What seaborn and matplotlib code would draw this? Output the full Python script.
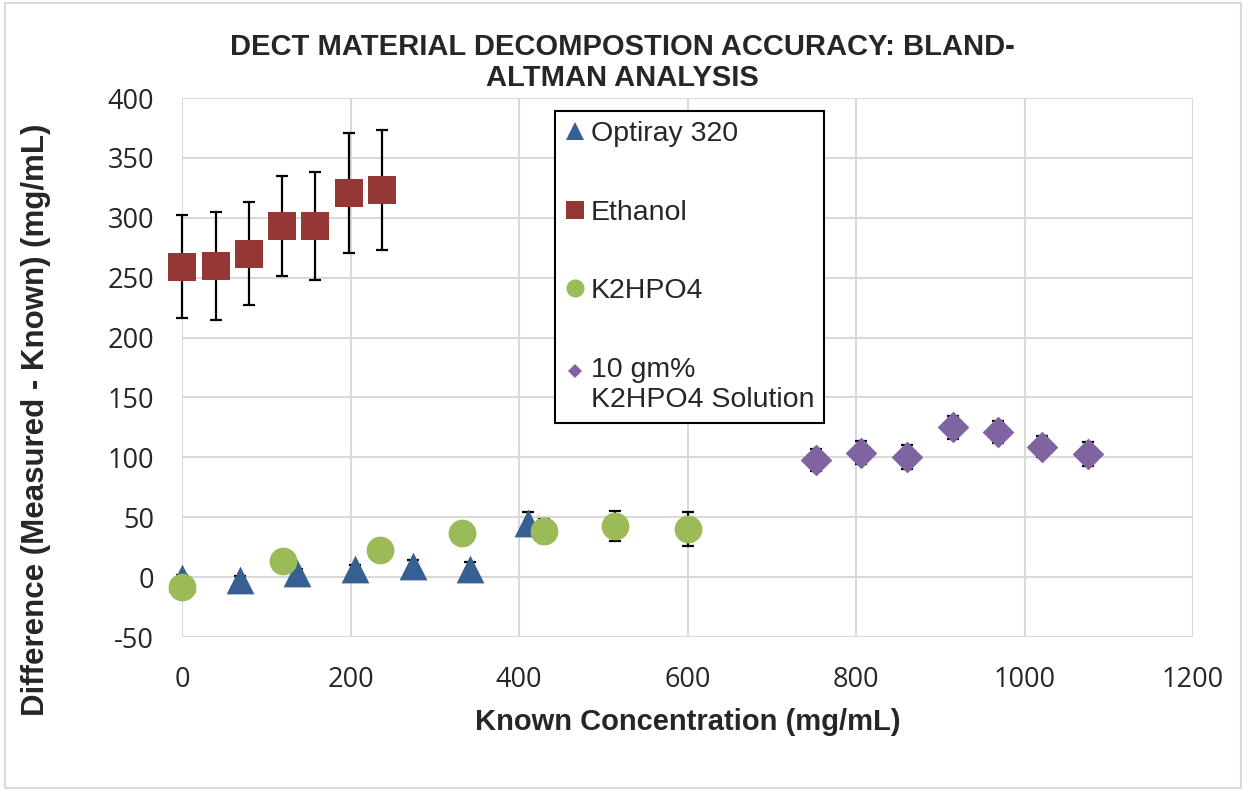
import matplotlib.pyplot as plt
import matplotlib.patches as patches
import matplotlib.transforms as mtransforms
from matplotlib.lines import Line2D
import seaborn as sns
import pandas as pd

# data
optiray_x = [0, 68.5, 137, 205.5, 274, 342, 411]
optiray_y = [-1, -2, 3.5, 7, 9.5, 7, 45]
optiray_err = [3, 3, 3, 3, 4.5, 6, 9]

ethanol_x = [0, 40, 79, 119, 158, 198, 237]
ethanol_y = [259, 260, 270, 293, 293, 321, 323]
ethanol_err = [43, 45, 43, 42, 45, 50, 50]

k2_x = [0, 120, 235, 332, 430, 514, 600]
k2_y = [-8.5, 13.5, 23, 37, 38.5, 43, 40]
k2_err = [4, 4, 4, 4, 10, 12.5, 14]

sol_x = [753, 806, 861, 915, 968, 1021, 1075]
sol_y = [98, 104, 100.5, 125, 121, 109, 103]
sol_err = [9, 9.5, 10, 9.5, 9, 9, 10]

series = [
    ("Optiray 320", optiray_x, optiray_y, optiray_err, "#376092", "^", 400, 13),
    ("Ethanol", ethanol_x, ethanol_y, ethanol_err, "#953735", "s", 400, 13),
    ("K2HPO4", k2_x, k2_y, k2_err, "#9BBB59", "o", 400, 13),
    ("10 gm%\nK2HPO4 Solution", sol_x, sol_y, sol_err, "#8064A2", "D", 260, 7.5),
]

sns.set_style("white")
plt.rcParams["axes.unicode_minus"] = False

fig = plt.figure(figsize=(12.44, 7.91), dpi=100)
ax = fig.add_axes([182 / 1244, 1 - 637 / 791, (1193 - 182) / 1244, (637 - 98) / 791])

handles = []
z = 3
for name, xs, ys, errs, col, mk, size, lsize in series:
    df = pd.DataFrame({"x": xs, "y": ys, "e": errs})
    eb = ax.errorbar(df["x"], df["y"], yerr=df["e"], fmt="none", ecolor="black",
                     elinewidth=1.6, capsize=4, capthick=1.6, zorder=z)
    for art in eb.lines[1] + eb.lines[2]:
        art.set_clip_on(False)
    sns.scatterplot(data=df, x="x", y="y", marker=mk, s=size, color=col,
                    linewidth=0, ax=ax, zorder=z + 1, clip_on=False)
    handles.append(Line2D([], [], linestyle="none", marker=mk, markersize=lsize,
                          markerfacecolor=col, markeredgewidth=0, label=name))
    z += 2

ax.set_xlim(0, 1200)
ax.set_ylim(-50, 400)
ax.set_xticks(range(0, 1201, 200))
ax.set_yticks(range(-50, 401, 50))
ax.grid(True, color="#D9D9D9", linewidth=1.5)
ax.set_axisbelow(True)
for s in ax.spines.values():
    s.set_visible(False)
ax.tick_params(length=0)
ax.tick_params(axis="x", pad=21)
ax.tick_params(axis="y", pad=20)
for lab in ax.get_xticklabels() + ax.get_yticklabels():
    lab.set_fontfamily("Open Sans")
    lab.set_fontsize(19.5)

ax.set_xlabel("Known Concentration (mg/mL)", fontsize=21, fontweight="bold",
              family="Liberation Sans")
ax.xaxis.set_label_coords((688 - 182) / 1011, -(722 - 637) / 539)
ax.xaxis.label.set_va("center")
ax.set_ylabel("Difference (Measured - Known) (mg/mL)", fontsize=22.5, fontweight="bold",
              family="Liberation Sans")
ax.yaxis.set_label_coords(-(182 - 36) / 1011, (637 - 420) / 539)
ax.yaxis.label.set_va("center")

fig.suptitle("DECT MATERIAL DECOMPOSTION ACCURACY: BLAND-\nALTMAN ANALYSIS",
             x=0.5, y=0.958, fontsize=21, fontweight="bold", family="Liberation Sans",
             linespacing=1.12)

leg = ax.legend(handles=handles, loc="upper left", bbox_to_anchor=(0.369, 0.976),
                borderaxespad=0, frameon=True, fancybox=False, framealpha=1,
                edgecolor="black", prop={"family": "Liberation Sans", "size": 20.5},
                labelspacing=1.85, handlelength=0.7, handletextpad=0.2,
                borderpad=0.35)
leg.get_frame().set_linewidth(1.5)

# put the two-line entry's marker beside its first line, as in the original
last = leg.legend_handles[-1]
last.set_transform(last.get_transform() +
                   mtransforms.ScaledTranslation(0, 0.14, fig.dpi_scale_trans))

fig.patches.append(patches.Rectangle((5 / 1244, 3 / 791), 1236 / 1244, 785 / 791,
                                     transform=fig.transFigure, fill=False,
                                     edgecolor="#D9D9D9", linewidth=1.5))

fig.savefig("out.png", dpi=100)
